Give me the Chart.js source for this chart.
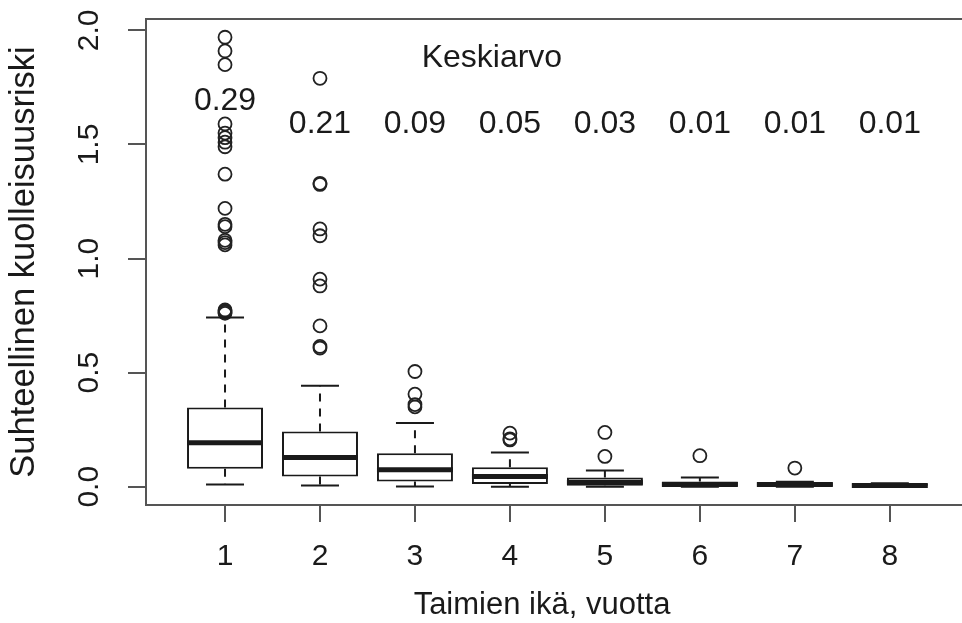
<!DOCTYPE html>
<html>
<head>
<meta charset="utf-8">
<script src="https://cdn.jsdelivr.net/npm/chart.js@4.4.1/dist/chart.umd.min.js"></script>
<style>
  html, body { margin: 0; padding: 0; background: white; }
  #wrap { width: 962px; height: 623px; }
</style>
</head>
<body>
<div id="wrap"><canvas id="myChart" width="962" height="623"></canvas></div>
<script>
// tree age groups (years)
const ages = [1, 2, 3, 4, 5, 6, 7, 8]
const yTicks = [0, 0.5, 1.0, 1.5, 2.0]

// box statistics per age group
const whiskerLow = [0.01, 0.006, 0.001, 0.0, 0.0, 0.0, 0.0, 0.0]
const q1 = [0.079, 0.045, 0.023, 0.012, 0.004, 0.001, 0.001, 0.0]
const medians = [0.193, 0.128, 0.074, 0.045, 0.02, 0.01, 0.01, 0.006]
const q3 = [0.347, 0.242, 0.147, 0.085, 0.041, 0.023, 0.019, 0.012]
const whiskerHigh = [0.742, 0.443, 0.279, 0.150, 0.071, 0.041, 0.022, 0.015]

// outliers per age group
const outliers = [
    [1.97, 1.91, 1.85, 1.59, 1.55, 1.53, 1.51, 1.49, 1.37, 1.22, 1.15, 1.14, 1.08, 1.07, 1.06, 0.775, 0.77, 0.765, 0.76],
    [1.79, 1.33, 1.325, 1.13, 1.10, 0.91, 0.88, 0.705, 0.615, 0.608],
    [0.505, 0.406, 0.36, 0.35],
    [0.235, 0.21, 0.205],
    [0.238, 0.133],
    [0.136],
    [0.082],
    []
]

// mean values
const means = ['0.29', '0.21', '0.09', '0.05', '0.03', '0.01', '0.01', '0.01']

const FONT = 'Liberation Sans, Arial, Helvetica, sans-serif'
const INK = '#1a1a1a'
const FRAME = '#555'

const boxExtras = {
    id: 'boxExtras',
    afterDatasetsDraw(chart) {
        const ctx = chart.ctx
        const x = chart.scales.x
        const y = chart.scales.y
        const bars = chart.getDatasetMeta(0).data
        ctx.save()
        ctx.strokeStyle = INK
        ages.forEach((a, i) => {
            const cx = x.getPixelForValue(a)
            const half = bars[i].width / 2
            // whiskers
            ctx.lineWidth = 2
            ctx.setLineDash([8, 7])
            ctx.beginPath()
            ctx.moveTo(cx, y.getPixelForValue(q3[i]))
            ctx.lineTo(cx, y.getPixelForValue(whiskerHigh[i]))
            ctx.moveTo(cx, y.getPixelForValue(q1[i]))
            ctx.lineTo(cx, y.getPixelForValue(whiskerLow[i]))
            ctx.stroke()
            ctx.setLineDash([])
            ctx.beginPath()
            ctx.moveTo(cx - half / 2, y.getPixelForValue(whiskerHigh[i]))
            ctx.lineTo(cx + half / 2, y.getPixelForValue(whiskerHigh[i]))
            ctx.moveTo(cx - half / 2, y.getPixelForValue(whiskerLow[i]))
            ctx.lineTo(cx + half / 2, y.getPixelForValue(whiskerLow[i]))
            ctx.stroke()
            // median
            ctx.lineWidth = 5
            ctx.beginPath()
            ctx.moveTo(cx - half, y.getPixelForValue(medians[i]))
            ctx.lineTo(cx + half, y.getPixelForValue(medians[i]))
            ctx.stroke()
        })
        // mean labels
        ctx.fillStyle = INK
        ctx.font = '32px ' + FONT
        ctx.textAlign = 'center'
        ctx.textBaseline = 'middle'
        means.forEach((m, i) => {
            ctx.fillText(m, x.getPixelForValue(ages[i]), y.getPixelForValue(i === 0 ? 1.69 : 1.59))
        })
        ctx.fillText('Keskiarvo', x.getPixelForValue(3.81), y.getPixelForValue(1.879))
        ctx.restore()
    },
    afterDraw(chart) {
        const ctx = chart.ctx
        const area = chart.chartArea
        ctx.save()
        // top frame line
        ctx.strokeStyle = FRAME
        ctx.lineWidth = 2
        ctx.beginPath()
        ctx.moveTo(area.left - 1, area.top)
        ctx.lineTo(area.right, area.top)
        ctx.stroke()
        // x axis title
        ctx.fillStyle = INK
        ctx.font = '31px ' + FONT
        ctx.textAlign = 'center'
        ctx.textBaseline = 'middle'
        ctx.fillText('Taimien ikä, vuotta', 542, 605)
        ctx.restore()
    }
}

const ctx = document.getElementById('myChart')
new Chart(ctx, {
    data: {
        datasets: [{
                type: 'bar',
                data: ages.map((a, i) => ({ x: a, y: [q1[i], q3[i]] })),
                backgroundColor: 'white',
                borderColor: INK,
                borderWidth: 2,
                borderSkipped: false,
                categoryPercentage: 1,
                barPercentage: 0.8,
                order: 2
            },
            {
                type: 'scatter',
                data: outliers.flatMap((list, i) => list.map(v => ({ x: ages[i], y: v }))),
                pointRadius: 6.5,
                pointBorderWidth: 1.8,
                borderColor: '#222',
                backgroundColor: 'rgba(0,0,0,0)',
                order: 1
            }
        ]
    },
    options: {
        responsive: false,
        animation: false,
        events: [],
        layout: { autoPadding: false, padding: { left: 0, top: 19, right: 0, bottom: 0 } },
        plugins: { legend: { display: false }, tooltip: { enabled: false } },
        scales: {
            x: {
                type: 'linear',
                offset: false,
                min: 0.168,
                max: 8.76,
                afterBuildTicks: s => { s.ticks = ages.map(v => ({ value: v })) },
                afterFit: s => {
                    s.height = 118
                    s.paddingLeft = 0
                    s.paddingRight = 0
                },
                ticks: {
                    color: INK,
                    font: { family: FONT, size: 30 },
                    padding: 17,
                    callback: v => String(v)
                },
                grid: { offset: false, drawOnChartArea: false, tickLength: 17, color: FRAME, lineWidth: 2 },
                border: { color: FRAME, width: 2 }
            },
            y: {
                min: -0.08,
                max: 2.05,
                afterBuildTicks: s => { s.ticks = yTicks.map(v => ({ value: v })) },
                afterFit: s => {
                    s.width = 146
                    s.paddingTop = 0
                    s.paddingBottom = 0
                },
                ticks: {
                    color: INK,
                    font: { family: FONT, size: 30 },
                    minRotation: 90,
                    maxRotation: 90,
                    crossAlign: 'center',
                    autoSkip: false,
                    padding: 17,
                    callback: v => v.toFixed(1)
                },
                grid: { drawOnChartArea: false, tickLength: 18, color: FRAME, lineWidth: 2 },
                border: { color: FRAME, width: 2 },
                title: {
                    display: true,
                    text: 'Suhteellinen kuolleisuusriski',
                    color: INK,
                    font: { family: FONT, size: 34.5 },
                    padding: { top: 4, bottom: 0 }
                }
            }
        }
    },
    plugins: [boxExtras]
})
</script>
</body>
</html>
